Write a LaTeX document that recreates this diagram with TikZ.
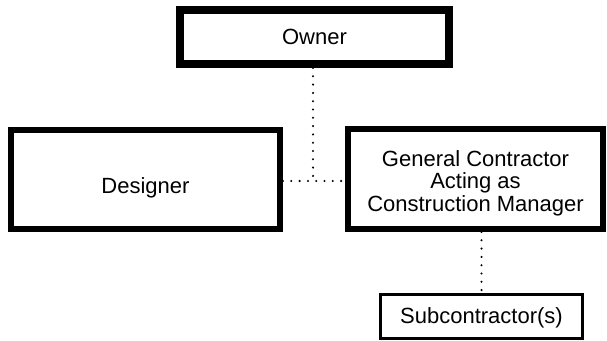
\documentclass[tikz,border=0pt]{standalone}
\usepackage{fontspec}
\setmainfont{Liberation Sans}
\begin{document}
\begin{tikzpicture}[x=1pt,y=-1pt,
  box/.style={draw=black, rectangle, inner sep=0pt, align=center,
    font=\fontsize{22}{22.5}\selectfont},
  link/.style={line width=2.3pt, line cap=round, dash pattern=on 0pt off 8.3pt}]
\useasboundingbox (0,0) rectangle (607,340);
\fill[white] (0,0) rectangle (607,340);
% organisation boxes
\node[box, line width=8pt, minimum width=269pt, minimum height=54pt] (owner) at (314.5,37) {Owner};
\node[box, line width=6pt, minimum width=269pt, minimum height=99pt,
  text height=31pt, text depth=4pt] (designer) at (145.5,179.5) {Designer};
\node[box, line width=6pt, minimum width=255pt, minimum height=100pt,
  text height=68pt, text depth=4pt] (gc) at (475.5,179)
  {General Contractor\\Acting as\\Construction Manager};
\node[box, line width=3pt, minimum width=202pt, minimum height=44pt,
  text height=19pt, text depth=4.6pt] (sub) at (481.5,316.5) {Subcontractor(s)};
% dotted relationship lines
\coordinate (j) at (313,181);
\draw[link] (owner.south -| j) -- (j);
\draw[link] (designer.east |- j) -- (gc.west |- j);
\draw[link] (gc.south -| sub.north) -- (sub.north);
\end{tikzpicture}
\end{document}
